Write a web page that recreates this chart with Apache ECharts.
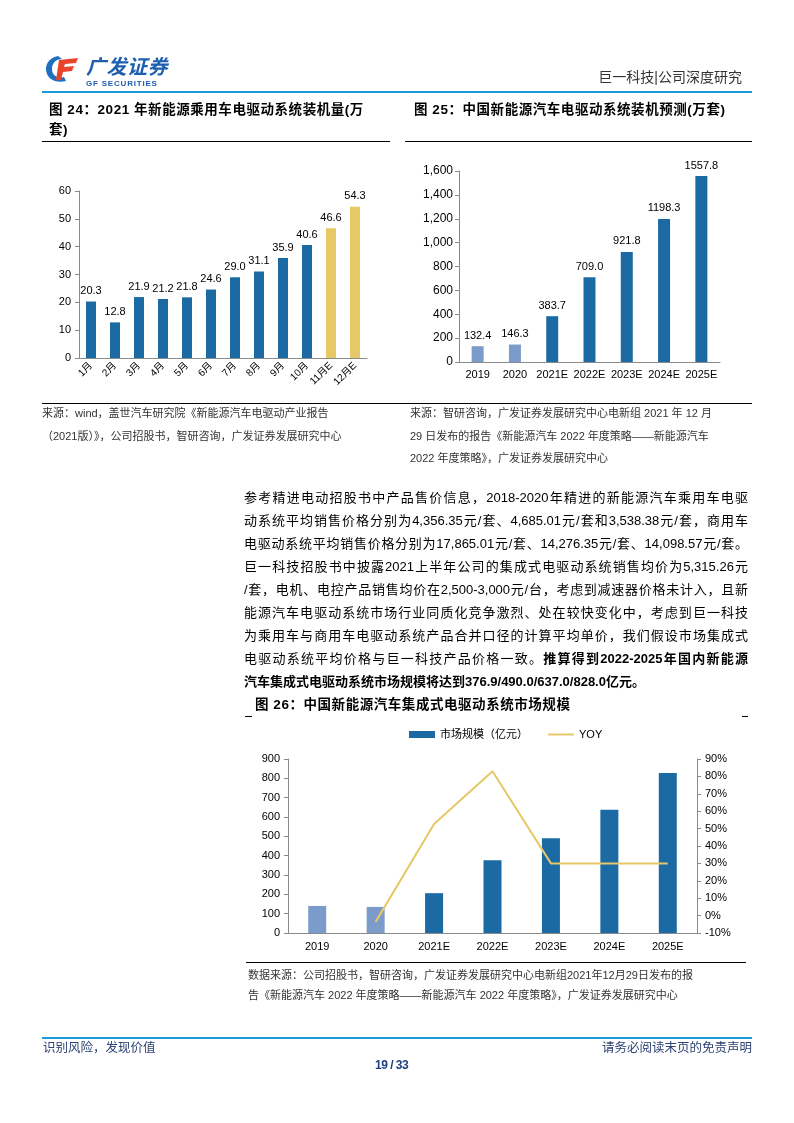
<!DOCTYPE html>
<html><head><meta charset="utf-8">
<script src="https://cdn.jsdelivr.net/npm/echarts@6/dist/echarts.min.js"></script>
<style>
html,body{margin:0;padding:0;background:#fff;}
#page{position:relative;width:794px;height:1123px;overflow:hidden;font-family:"Liberation Sans","Noto Sans CJK SC",sans-serif;color:#000;}
#chart{position:absolute;left:0;top:0;width:794px;height:1123px;}
.t{position:absolute;white-space:nowrap;}
.hl{position:absolute;height:1px;background:#000;}
.title{font-weight:bold;font-size:13.5px;letter-spacing:0.55px;line-height:20px;}
.src{font-size:11px;color:#333;line-height:22.5px;}
.body div{position:absolute;left:244px;width:504px;font-size:13px;line-height:23px;white-space:nowrap;text-align:justify;text-align-last:justify;}
</style></head>
<body><div id="page">
<div id="chart"></div>

<!-- header -->
<svg style="position:absolute;left:44px;top:54px" width="40" height="30" viewBox="0 0 40 30">
  <path d="M14,2 C4,4 0,12 3,20 C6,27 14,29 22,27 L20,23 C13,25 8,21 8,15 C8,9 12,5 18,5 Z" fill="#1e6fc0"/>
  <path d="M15,6 L34,4 L32,9 L21,10 L20,13 L30,12 L28,17 L19,18 L17,26 L12,26 Z" fill="#e8452c"/>
</svg>
<div class="t" style="left:86px;top:55px;font-size:20px;font-weight:bold;font-style:italic;color:#1e5fb0;letter-spacing:0.5px;line-height:24px;">广发证券</div>
<div class="t" style="left:86px;top:79px;font-size:8px;font-weight:bold;color:#1e5fb0;letter-spacing:0.8px;line-height:10px;">GF SECURITIES</div>
<div class="t" style="right:52px;top:67px;font-size:14px;color:#333;line-height:20px;">巨一科技|公司深度研究</div>
<div class="hl" style="left:42px;top:91px;width:710px;height:2px;background:#1a9ad8;"></div>

<!-- chart titles -->
<div class="t title" style="left:49px;top:100px;">图 24：2021 年新能源乘用车电驱动系统装机量(万</div>
<div class="t title" style="left:49px;top:120px;">套)</div>
<div class="hl" style="left:42px;top:141px;width:348px;"></div>
<div class="t title" style="left:414px;top:100px;">图 25：中国新能源汽车电驱动系统装机预测(万套)</div>
<div class="hl" style="left:405px;top:141px;width:347px;"></div>

<!-- sources -->
<div class="hl" style="left:42px;top:403px;width:710px;"></div>
<div class="t src" style="left:42px;top:402px;">来源：wind，盖世汽车研究院《新能源汽车电驱动产业报告<br>（2021版）》，公司招股书，智研咨询，广发证券发展研究中心</div>
<div class="t src" style="left:410px;top:402px;">来源：智研咨询，广发证券发展研究中心电新组 2021 年 12 月<br>29 日发布的报告《新能源汽车 2022 年度策略——新能源汽车<br>2022 年度策略》，广发证券发展研究中心</div>

<!-- body -->
<div class="body">
<div style="top:486px;">参考精进电动招股书中产品售价信息，2018-2020年精进的新能源汽车乘用车电驱</div>
<div style="top:509px;">动系统平均销售价格分别为4,356.35元/套、4,685.01元/套和3,538.38元/套，商用车</div>
<div style="top:532px;">电驱动系统平均销售价格分别为17,865.01元/套、14,276.35元/套、14,098.57元/套。</div>
<div style="top:555px;">巨一科技招股书中披露2021上半年公司的集成式电驱动系统销售均价为5,315.26元</div>
<div style="top:578px;">/套，电机、电控产品销售均价在2,500-3,000元/台，考虑到减速器价格未计入，且新</div>
<div style="top:601px;">能源汽车电驱动系统市场行业同质化竞争激烈、处在较快变化中，考虑到巨一科技</div>
<div style="top:624px;">为乘用车与商用车电驱动系统产品合并口径的计算平均单价，我们假设市场集成式</div>
<div style="top:647px;">电驱动系统平均价格与巨一科技产品价格一致。<b>推算得到2022-2025年国内新能源</b></div>
<div style="top:670px;text-align-last:left;"><b>汽车集成式电驱动系统市场规模将达到376.9/490.0/637.0/828.0亿元。</b></div>
</div>

<div class="t title" style="left:255px;top:695px;">图 26：中国新能源汽车集成式电驱动系统市场规模</div>
<div class="hl" style="left:245px;top:716px;width:7px;"></div>
<div class="hl" style="left:742px;top:716px;width:6px;"></div>

<div class="hl" style="left:246px;top:962px;width:500px;"></div>
<div class="t src" style="left:248px;top:965px;line-height:20px;">数据来源：公司招股书，智研咨询，广发证券发展研究中心电新组2021年12月29日发布的报<br>告《新能源汽车 2022 年度策略——新能源汽车 2022 年度策略》，广发证券发展研究中心</div>

<!-- footer -->
<div class="hl" style="left:42px;top:1037px;width:710px;height:2px;background:#1a9ad8;"></div>
<div class="t" style="left:43px;top:1039px;font-size:12.5px;color:#2d4373;line-height:18px;">识别风险，发现价值</div>
<div class="t" style="right:42px;top:1039px;font-size:12.5px;color:#2d4373;line-height:18px;">请务必阅读末页的免责声明</div>
<div class="t" style="left:375px;top:1057px;font-size:12px;font-weight:bold;color:#1d3f80;line-height:16px;letter-spacing:-0.5px;">19 / 33</div>
</div>

<script>
// ---- data ----
const months24 = ['1月','2月','3月','4月','5月','6月','7月','8月','9月','10月','11月E','12月E'];
const install24 = [20.3,12.8,21.9,21.2,21.8,24.6,29.0,31.1,35.9,40.6,46.6,54.3];

const years25 = ['2019','2020','2021E','2022E','2023E','2024E','2025E'];
const install25 = [132.4,146.3,383.7,709.0,921.8,1198.3,1557.8];

const years26 = ['2019','2020','2021E','2022E','2023E','2024E','2025E'];
const market26 = [140,135,206,376.9,490.0,637.0,828.0];
const yoy26 = [null,-3.6,52.6,83.0,30.0,30.0,30.0];
const seriesNames26 = ['市场规模（亿元）','YOY'];

// ---- styles ----
const BLUE = '#1c6aa4', LIGHT = '#7b9bca', YELLOW = '#e6c866', AX = '#8a8a8a';
const FONT = '"Liberation Sans","Noto Sans CJK SC",sans-serif';

const axisLine = {show:true, lineStyle:{color:AX, width:1}};
const lab = {color:'#000', fontSize:11, fontFamily:FONT};

const chart = echarts.init(document.getElementById('chart'), null, {renderer:'canvas'});
chart.setOption({
  animation:false,
  backgroundColor:'transparent',
  grid:[
    {left:79, top:191, width:288, height:167},
    {left:459, top:171, width:261, height:191},
    {left:288, top:759, width:409, height:174}
  ],
  legend:{
    left:409, top:729, padding:0, itemWidth:26, itemHeight:7, itemGap:20,
    textStyle:{fontSize:11, color:'#000', fontFamily:FONT},
    data:[
      {name:seriesNames26[0], icon:'rect', itemStyle:{color:BLUE}},
      {name:seriesNames26[1], icon:'path://M0,0 L26,0 L26,2 L0,2 Z', itemStyle:{color:YELLOW}}
    ]
  },
  xAxis:[
    {gridIndex:0, type:'category', data:months24, axisLine, axisTick:{show:false},
     axisLabel:{...lab, fontSize:10, rotate:45, margin:6, interval:0}},
    {gridIndex:1, type:'category', data:years25, axisLine, axisTick:{show:false},
     axisLabel:{...lab, margin:7, interval:0}},
    {gridIndex:2, type:'category', data:years26, axisLine, axisTick:{show:false},
     axisLabel:{...lab, margin:8, interval:0}}
  ],
  yAxis:[
    {gridIndex:0, type:'value', min:0, max:60, interval:10, axisLine,
     axisTick:{show:true, length:4, lineStyle:{color:AX}}, splitLine:{show:false},
     axisLabel:{...lab, margin:8}},
    {gridIndex:1, type:'value', min:0, max:1600, interval:200, axisLine,
     axisTick:{show:true, length:4, lineStyle:{color:AX}}, splitLine:{show:false},
     axisLabel:{...lab, fontSize:12, margin:6, formatter:v=>v.toLocaleString('en-US')}},
    {gridIndex:2, type:'value', min:0, max:900, interval:100, axisLine,
     axisTick:{show:true, length:4, lineStyle:{color:AX}}, splitLine:{show:false},
     axisLabel:{...lab, margin:8}},
    {gridIndex:2, type:'value', position:'right', min:-10, max:90, interval:10, axisLine,
     axisTick:{show:true, length:4, lineStyle:{color:AX}}, splitLine:{show:false},
     axisLabel:{...lab, margin:8, formatter:v=>v+'%'}}
  ],
  series:[
    {type:'bar', xAxisIndex:0, yAxisIndex:0, data:install24, barWidth:10,
     itemStyle:{color:p=>p.dataIndex>=10?YELLOW:BLUE},
     label:{show:true, position:'top', distance:5, ...lab, formatter:p=>p.value.toFixed(1)}},
    {type:'bar', xAxisIndex:1, yAxisIndex:1, data:install25, barWidth:12,
     itemStyle:{color:p=>p.dataIndex<=1?LIGHT:BLUE},
     label:{show:true, position:'top', distance:5, ...lab, formatter:p=>p.value.toFixed(1)}},
    {name:seriesNames26[0], type:'bar', xAxisIndex:2, yAxisIndex:2, data:market26, barWidth:18,
     itemStyle:{color:p=>p.dataIndex<=1?LIGHT:BLUE}},
    {name:seriesNames26[1], type:'line', xAxisIndex:2, yAxisIndex:3, data:yoy26,
     symbol:'none', lineStyle:{color:YELLOW, width:2}, itemStyle:{color:YELLOW}}
  ]
});
</script>
</body></html>
